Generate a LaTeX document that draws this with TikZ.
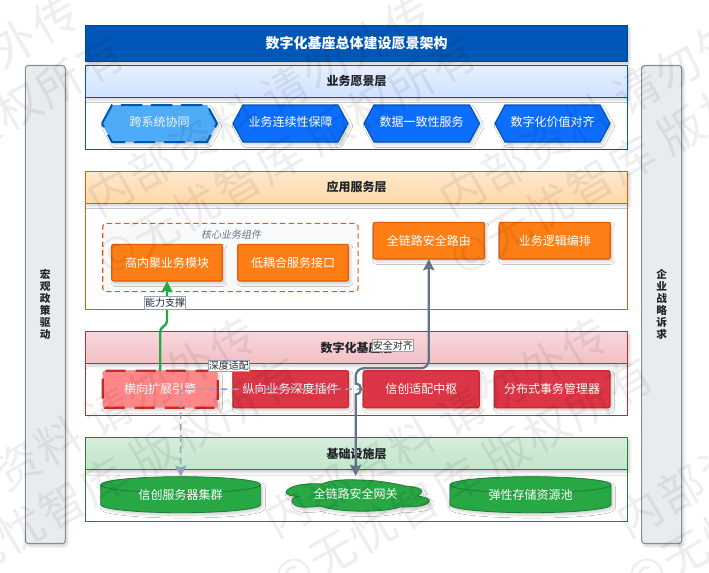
\documentclass[tikz,border=0pt]{standalone}
\usepackage{fontspec}
\setmainfont{Noto Sans CJK SC}
\newfontfamily\slantfont[FakeSlant=0.2]{Noto Sans CJK SC}
\newfontfamily\wmfont[LetterSpace=5]{Noto Sans CJK SC}
\usetikzlibrary{arrows.meta,shadows.blur,calc}
\definecolor{blueA}{HTML}{0D6EFD}
\definecolor{blueB}{HTML}{0056B3}
\definecolor{blueC}{HTML}{4DABF7}
\definecolor{orgA}{HTML}{FD7E14}
\definecolor{orgB}{HTML}{E8590C}
\definecolor{redA}{HTML}{DC3545}
\definecolor{redB}{HTML}{C92A2A}
\definecolor{redC}{HTML}{FF8787}
\definecolor{grnA}{HTML}{28A745}
\definecolor{grnB}{HTML}{1E7E34}
\definecolor{grnC}{HTML}{2E7D32}
\definecolor{slateA}{HTML}{64748B}
\definecolor{slateB}{HTML}{94A3BD}
\definecolor{sideF}{HTML}{E9ECEF}
\definecolor{sideD}{HTML}{868E96}
\definecolor{ink}{HTML}{212529}
\definecolor{coreF}{HTML}{F8F9FA}
\definecolor{h1a}{HTML}{E7F1FF}\definecolor{h1b}{HTML}{CFE2FF}
\definecolor{h2a}{HTML}{FFE8CC}\definecolor{h2b}{HTML}{FFD8A8}
\definecolor{h3a}{HTML}{F8D7DA}\definecolor{h3b}{HTML}{F1C0C7}
\definecolor{h4a}{HTML}{D4EDDA}\definecolor{h4b}{HTML}{C3E6CB}
\tikzset{
  softshadow/.style={blur shadow={shadow xshift=1.5pt,shadow yshift=-2pt,shadow blur steps=5,shadow blur radius=2pt,shadow opacity=18}},
  wh/.style n args={2}{minimum width=#1*.75pt,minimum height=#2*.75pt,inner sep=0pt,outer sep=0pt},
  txt/.style={font=\fontsize{9}{9}\selectfont,text=white},
  layerbody/.style={draw=#1,line width=.7pt,fill=white},
  layerhead/.style n args={3}{draw=#1,line width=.7pt,top color=#2,bottom color=#3,softshadow,font=\fontsize{9}{9}\selectfont\bfseries,text=ink},
  obox/.style={draw=orgB,line width=.9pt,fill=orgA,rounded corners=1.5pt,softshadow,txt},
  rbox/.style={draw=redB,line width=.9pt,fill=redA,rounded corners=1.5pt,softshadow,txt},
  rdash/.style={draw=redB,line width=1.7pt,fill=redC,rounded corners=1.5pt,dash pattern=on 15pt off 7.5pt,softshadow,txt},
  hexa/.style={draw=blueB,line width=.9pt,fill=blueA,softshadow},
  hexb/.style={draw=blueB,line width=1.5pt,fill=blueC,dash pattern=on 16pt off 6.5pt,softshadow},
  cyl/.style={draw=grnB,line width=.6pt,fill=grnA,softshadow},
  sidebar/.style={draw=sideD,line width=.8pt,fill=sideF,rounded corners=2.2pt,softshadow},
  sidetxt/.style={font=\fontsize{8}{9}\selectfont\bfseries,text=ink,align=center},
  conlabel/.style={draw=slateB,line width=.6pt,fill=white,font=\fontsize{7.5}{7.5}\selectfont,text=ink},
  wm/.style={font=\wmfont\fontsize{34}{34}\selectfont,text=black,text opacity=.065,rotate=30,inner sep=0pt},
  tipg/.style={-{Stealth[length=8.5pt,width=8.5pt,inset=1.5pt]}},
  tipgg/.style={{Stealth[length=8.5pt,width=8.5pt,inset=1.5pt]}-{Stealth[length=8.5pt,width=8.5pt,inset=1.5pt]}},
}
\newcommand{\hexshape}[5]{\draw[#5] (#1,{(#3+#4)/2}) -- ({#1+10},#3) -- ({#2-10},#3) -- (#2,{(#3+#4)/2}) -- ({#2-10},#4) -- ({#1+10},#4) -- cycle;}
\newcommand{\cylshape}[4]{%
  \draw[cyl] (#1,{#3+8}) .. controls (#1,{#3+3.6}) and ({(#1+#2)/2-.276*(#2-#1)},#3) .. ({(#1+#2)/2},#3)
    .. controls ({(#1+#2)/2+.276*(#2-#1)},#3) and (#2,{#3+3.6}) .. (#2,{#3+8})
    -- (#2,{#4-8}) .. controls (#2,{#4-3.6}) and ({(#1+#2)/2+.276*(#2-#1)},#4) .. ({(#1+#2)/2},#4)
    .. controls ({(#1+#2)/2-.276*(#2-#1)},#4) and (#1,{#4-3.6}) .. (#1,{#4-8}) -- cycle;
  \draw[draw=grnB,line width=.6pt] (#1,{#3+8}) .. controls (#1,{#3+12.4}) and ({(#1+#2)/2-.276*(#2-#1)},{#3+16}) .. ({(#1+#2)/2},{#3+16})
    .. controls ({(#1+#2)/2+.276*(#2-#1)},{#3+16}) and (#2,{#3+12.4}) .. (#2,{#3+8});}
\begin{document}
\begin{tikzpicture}[x=.75pt,y=-.75pt]
\useasboundingbox (0,0) rectangle (709,572);
\begin{scope}
\clip (0,0) rectangle (709,572);
% sidebars
\node[sidebar,wh={40}{478}] (left) at (45.3,304.5) {};
\node[sidebar,wh={40}{478}] (right) at (661.7,304.5) {};
\node[sidetxt] (lefttxt) at (45.3,304.5) {宏\\观\\政\\策\\驱\\动};
\node[sidetxt] (righttxt) at (661.7,304.5) {企\\业\\战\\略\\诉\\求};
% title
\node[wh={542.5}{36.5},fill=blueB!95!blueA,draw=blueB!85!black,line width=.7pt,softshadow,font=\fontsize{10.5}{10.5}\selectfont\bfseries,text=white] (title) at (356.5,43.5) {数字化基座总体建设愿景架构};
% layer 1
\node[layerbody=blueB,wh={542.5}{52}] (b1) at (356.5,123.5) {};
\node[layerhead={blueB}{h1a}{h1b},wh={542.5}{32}] (h1) at (356.5,81.3) {业务愿景层};
% layer 2
\node[layerbody=orgB,wh={542.5}{106.5}] (b2) at (356.5,256.3) {};
\node[layerhead={orgB}{h2a}{h2b},wh={542.5}{32}] (h2) at (356.5,187.3) {应用服务层};
% layer 3
\node[layerbody=redB,wh={542.5}{52}] (b3) at (356.5,389.5) {};
\node[layerhead={redB}{h3a}{h3b},wh={542.5}{32}] (h3) at (356.5,347.5) {数字化基座层};
% layer 4
\node[layerbody=grnC,wh={542.5}{51.5}] (b4) at (356.5,495.5) {};
\node[layerhead={grnC}{h4a}{h4b},wh={542.5}{32}] (h4) at (356.5,453.8) {基础设施层};
% hexes
\hexshape{102}{217}{105}{142}{hexb}
\hexshape{233}{348}{105}{142}{hexa}
\hexshape{364}{479.5}{105}{142}{hexa}
\hexshape{495}{610}{105}{142}{hexa}
\node[txt,text=white!92!blueC] (v1) at (159.5,122) {跨系统协同};
\node[txt] (v2) at (290.5,122) {业务连续性保障};
\node[txt] (v3) at (421.7,122) {数据一致性服务};
\node[txt] (v4) at (552.5,122) {数字化价值对齐};
% core group
\node[wh={255.3}{68.4},draw=orgB,line width=.8pt,dash pattern=on 4pt off 2.5pt,fill=coreF,rounded corners=2.5pt] (core) at (230.4,257.5) {};
\node[font=\slantfont\fontsize{7.5}{7.5}\selectfont,text=slateA] (coret) at (231,235) {核心业务组件};
\node[obox,wh={110.6}{36.7}] (m1) at (167,262.7) {高内聚业务模块};
\node[obox,wh={110.6}{36.7}] (m2) at (293,262.7) {低耦合服务接口};
\node[obox,wh={111}{36.7}] (route) at (428.8,240.7) {全链路安全路由};
\node[obox,wh={111}{36.7}] (m4) at (554.8,240.7) {业务逻辑编排};
% red row
\node[rdash,wh={115}{37}] (engine) at (160.2,389.2) {横向扩展引擎};
\node[rbox,wh={115.5}{37}] (plugin) at (290.7,389.2) {纵向业务深度插件};
\node[rbox,wh={116}{37}] (hub) at (421.3,389.2) {信创适配中枢};
\node[rbox,wh={115.7}{37}] (txm) at (552.2,389.2) {分布式事务管理器};
% infrastructure
\cylshape{100.7}{260.7}{476.7}{512.7}
\cylshape{450}{611}{476.7}{512.7}
\draw[cyl] (286,491.7) .. controls (290,485) and (305,483) .. (322,484)
  .. controls (330,479.5) and (350,479.5) .. (358,480)
  .. controls (375,480) and (392,483) .. (405,486)
  .. controls (418,487) and (424,490) .. (421.5,492)
  .. controls (421,494) and (419,495) .. (417,496)
  .. controls (425,497) and (431,499) .. (429.3,501.5)
  .. controls (426,507) and (410,507) .. (400,507)
  .. controls (385,512.5) and (340,513) .. (320,506)
  .. controls (305,508) and (293,508) .. (292,501)
  .. controls (291,498.5) and (295,497) .. (298,496.5)
  .. controls (292,496) and (285,495) .. (286,491.7) -- cycle;
\node[txt,wh={160}{36}] (server) at (180.7,494.7) {信创服务器集群};
\node[txt,wh={143}{36}] (gw) at (355.7,494) {全链路安全网关};
\node[txt,wh={161}{36}] (store) at (530.5,494.7) {弹性存储资源池};
% connectors
\coordinate (g1) at (engine.north |- 0,333);
\coordinate (g2) at (m1.south |- 0,321);
\draw[grnA,line width=1.8pt,tipg] (engine.north) -- (g1) .. controls ($(g1)+(0,-8)$) and ($(g2)+(0,6)$) .. (g2) -- (m1.south);
\draw[slateB,line width=1.1pt,dash pattern=on 5pt off 3.5pt,tipg,rounded corners=3pt] (hub.west) -| (server.north);
\coordinate (s1) at (route.south |- 0,368.3);
\coordinate (s2) at (gw.north |- 0,368.3);
\coordinate (s3) at (gw.north |- 0,383.7);
\coordinate (s4) at (gw.north |- 0,394.3);
\draw[slateA,line width=1.7pt,tipgg] (route.south) [rounded corners=6pt] -- (s1) -- (s2) [sharp corners] -- (s3) .. controls ($(s3)+(7,0)$) and ($(s4)+(7,0)$) .. (s4) -- (gw.north);
\node[conlabel,wh={41.4}{12.4}] (l1) at (165,302.8) {能力支撑};
\node[conlabel,wh={41}{11.7}] (l2) at (228.8,365.8) {深度适配};
\node[conlabel,wh={41}{12.7}] (l3) at (392.8,345.4) {安全对齐};
% watermark
\foreach \r in {0,1}{\foreach \c in {-1,0,1}{
  \node[wm] (wa\r\c) at ({259+352.5*\c+177*\r},{105+322*\r}) {内部资料 请勿外传};
  \node[wm] (wb\r\c) at ({287+352.5*\c+177*\r},{155+322*\r}) {©无忧智库 版权所有};
}}
\end{scope}
\end{tikzpicture}
\end{document}
